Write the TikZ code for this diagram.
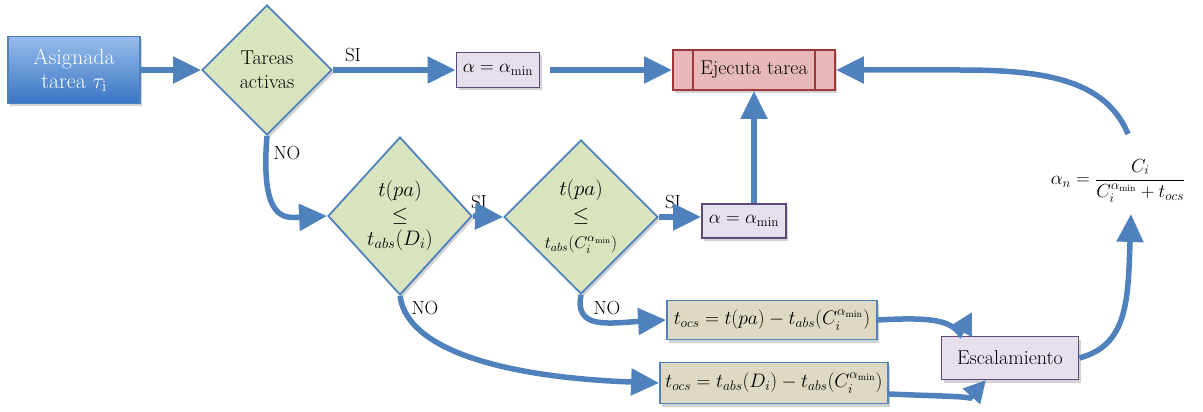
\RequirePackage{fix-cm}
\documentclass[tikz,border=0pt]{standalone}
\usepackage{amsmath}
\usetikzlibrary{arrows.meta,shapes.geometric,shadows}
\definecolor{arrowblue}{RGB}{79,129,189}
\definecolor{decfill}{RGB}{215,228,189}
\definecolor{lavfill}{RGB}{229,224,236}
\definecolor{lavline}{RGB}{95,73,122}
\definecolor{ejfill}{RGB}{230,185,184}
\definecolor{ejline}{RGB}{160,56,58}
\definecolor{tocsfill}{RGB}{221,217,195}
\definecolor{topblue}{RGB}{150,188,235}
\definecolor{botblue}{RGB}{58,117,196}
\newcommand{\fsz}[1]{\fontsize{#1}{#1}\selectfont}
\begin{document}
\begin{tikzpicture}[x=1pt,y=-1pt,
  font=\fsz{19},
  shad/.style={drop shadow={opacity=0.35,shadow xshift=2pt,shadow yshift=-3pt}},
  conn/.style={line width=5.5pt, draw=arrowblue, -{Triangle[length=28pt,width=26pt]}},
  smallconn/.style={line width=5.5pt, draw=arrowblue, -{Triangle[length=22pt,width=22pt]}},
  startbox/.style={rectangle, draw=arrowblue, line width=1.5pt, top color=topblue, bottom color=botblue,
     text=white, align=center, minimum width=132pt, minimum height=67pt, inner sep=0pt, font=\fsz{22}, shad},
  decision/.style={diamond, aspect=1, draw=arrowblue, line width=1.8pt, fill=decfill, align=center, inner sep=0pt, shad},
  purplebox/.style={rectangle, draw=lavline, line width=1.8pt, fill=lavfill, inner sep=2pt, shad},
  ejbox/.style={rectangle, draw=ejline, line width=1.8pt, fill=ejfill, minimum width=162pt, minimum height=40pt, font=\fsz{20}, shad},
  tocsbox/.style={rectangle, draw=arrowblue, line width=1.8pt, fill=tocsfill, inner sep=2pt, font=\fsz{19.5}, shad},
  lbl/.style={inner sep=0pt, font=\fsz{19}}
]
\useasboundingbox (0,0) rectangle (1203,412);

% nodes
\node[startbox] (asig) at (74,70) {Asignada\\[2pt]tarea $\tau_{\mathrm{i}}$};
\node[decision, minimum width=130pt, minimum height=130pt, font=\fsz{20}] (d1) at (267,70) {Tareas\\[4pt]activas};
\node[purplebox, minimum width=83pt, minimum height=35pt] (a1) at (498,70) {$\alpha=\alpha_{\min}$};
\node[ejbox] (ej) at (754,70) {Ejecuta tarea};
\node[decision, minimum width=144pt, minimum height=158pt, font=\fsz{21}] (d2) at (400,216)
  {$t(pa)$\\[4pt]$\le$\\[3pt]$t_{abs}(D_i)$};
\node[decision, minimum width=154pt, minimum height=154pt, font=\fsz{21}] (d3) at (581,217)
  {$t(pa)$\\[5pt]$\le$\\[6pt]{\fsz{17}$t_{abs}(C_i^{\alpha_{\min}})$}};
\node[purplebox, minimum width=84pt, minimum height=34pt] (a2) at (744,221) {$\alpha=\alpha_{\min}$};
\node[tocsbox, minimum width=210pt, minimum height=39pt] (t1) at (772,320)
  {$t_{ocs}=t(pa)-t_{abs}(C_i^{\alpha_{\min}})$};
\node[tocsbox, minimum width=228pt, minimum height=41pt] (t2) at (774,383)
  {$t_{ocs}=t_{abs}(D_i)-t_{abs}(C_i^{\alpha_{\min}})$};
\node[purplebox, minimum width=137pt, minimum height=43pt, font=\fsz{20}] (esc) at (1010,358) {Escalamiento};
\node[inner sep=0pt, font=\fsz{19}] (fm) at (1118,181)
  {$\alpha_n=\dfrac{C_i}{C_i^{\alpha_{\min}}+t_{ocs}}$};

\draw[ejline, line width=1.8pt] ([xshift=21pt]ej.north west) -- ([xshift=21pt]ej.south west);
\draw[ejline, line width=1.8pt] ([xshift=-21pt]ej.north east) -- ([xshift=-21pt]ej.south east);

% labels
\node[lbl] (si1) at (353,55) {SI};
\node[lbl] (no1) at (287,153) {NO};
\node[lbl] (si2) at (479,202) {SI};
\node[lbl] (si3) at (673,202) {SI};
\node[lbl] (no2) at (425,308) {NO};
\node[lbl] (no3) at (607,308) {NO};

% coordinates
\coordinate (e1) at (972,312);
\coordinate (e2) at (986,380);
\coordinate (f1) at (1131,214);
\coordinate (f2) at (1128,134);
\coordinate (h1) at (960,70);

% connectors
\draw[conn] (asig.east) -- (d1.west);
\draw[conn] (d1.east) -- (a1.west);
\draw[conn, shorten <=10pt] (a1.east) -- (ej.west);
\draw[conn] (d1.south) .. controls (260,222) and (285,218) .. (d2.west);
\draw[conn] (d2.east) -- (d3.west);
\draw[conn] (d3.east) -- (d3.east -| a2.west);
\draw[conn] (ej.south |- a2.north) -- (ej.south);
\draw[conn] (d3.south) .. controls (574,330) and (610,323) .. (t1.west);
\draw[conn] (d2.south) .. controls (408,355) and (520,378) .. (t2.west);
\draw[smallconn] (t1.east) .. controls (930,317) and (950,320) .. (960,334) -- (e1);
\draw[smallconn] ([yshift=-11pt]t2.east) .. controls (935,396) and (958,396) .. (970,398) -- (e2);
\draw[conn] (esc.east) .. controls (1128,345) and (1128,300) .. (f1);
\draw[conn] (f2) .. controls (1105,78) and (1040,70) .. (h1) -- (ej.east);
\end{tikzpicture}
\end{document}
